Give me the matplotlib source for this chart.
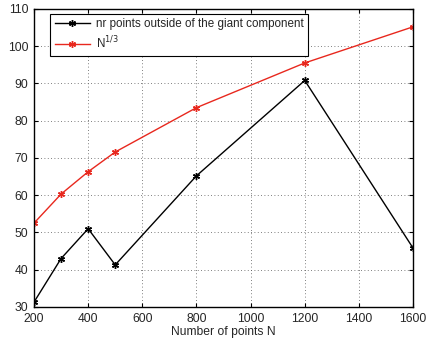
import matplotlib
matplotlib.use("Agg")
import matplotlib.pyplot as plt

N = [200, 300, 400, 500, 800, 1200, 1600]
outside = [31.3, 43.0, 51.0, 41.3, 65.2, 90.8, 45.8]
cube = [52.5, 60.3, 66.3, 71.6, 83.5, 95.5, 105.2]
xticks = [200, 400, 600, 800, 1000, 1200, 1400, 1600]
yticks = [30, 40, 50, 60, 70, 80, 90, 100, 110]

plt.rcParams['font.family'] = ['Liberation Sans', 'DejaVu Sans']
txt = '#262626'
fig = plt.figure(figsize=(4.33, 3.43), dpi=100)
ax = fig.add_axes([0.0785, 0.105, 0.8755, 0.869])
ax.plot(N, outside, color='black', lw=1, marker=(6, 2, 0), ms=5, mew=1,
        label='nr points outside of the giant component')
ax.plot(N, cube, color='#e8281e', lw=1, marker=(6, 2, 0), ms=5, mew=1,
        label=r'N$^{1/3}$')
ax.set_xlim(200, 1600)
ax.set_ylim(30, 110)
ax.set_xticks(xticks)
ax.set_yticks(yticks)
ax.tick_params(direction='in', top=True, right=True, labelsize=8.7, length=3,
               pad=4, labelcolor=txt)
ax.grid(True, linestyle=(0, (1, 3)), color='#555555', lw=0.6)
for s in ax.spines.values():
    s.set_linewidth(1)
ax.set_xlabel('Number of points N', fontsize=8.7, labelpad=1, color=txt)
leg = ax.legend(loc='upper left', fontsize=8.4, frameon=True, fancybox=False,
                edgecolor='black', framealpha=1, borderaxespad=0.4,
                handlelength=3.0, handletextpad=0.5, labelspacing=0.35,
                bbox_to_anchor=(0.03, 1.0))
for t in leg.get_texts():
    t.set_color(txt)
leg.get_frame().set_linewidth(0.8)
fig.savefig('out.png', dpi=100)
